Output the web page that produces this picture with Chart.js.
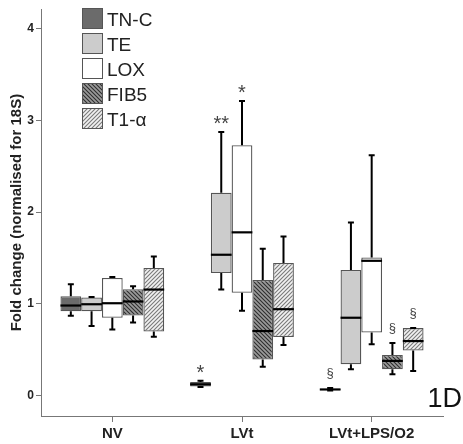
<!DOCTYPE html>
<html>
<head>
<meta charset="utf-8">
<script src="https://cdn.jsdelivr.net/npm/chart.js@4.4.1/dist/chart.umd.min.js"></script>
<style>
  html, body { margin: 0; padding: 0; background: #fff; }
  #wrap { width: 463px; height: 444px; }
</style>
</head>
<body>
<div id="wrap"><canvas id="boxChart"></canvas></div>
<script>
// Grupos e séries
const groups = ['NV', 'LVt', 'LVt+LPS/O2'];
const seriesNames = ['TN-C', 'TE', 'LOX', 'FIB5', 'T1-α'];
const yTicks = [0, 1, 2, 3, 4];

// Estatísticas de cada caixa: uma linha por série, uma coluna por grupo
const minVals = [
  [0.871, 0.095, 0.057],
  [0.759, 1.157, 0.289],
  [0.723, 0.925, 0.560],
  [0.799, 0.315, 0.235],
  [0.644, 0.553, 0.271]
];
const q1Vals = [
  [0.921, 0.100, 0.063],
  [0.921, 1.337, 0.344],
  [0.850, 1.121, 0.690],
  [0.875, 0.394, 0.289],
  [0.701, 0.640, 0.492]
];
const medianVals = [
  [0.983, 0.125, 0.069],
  [0.997, 1.536, 0.850],
  [1.008, 1.780, 1.470],
  [1.027, 0.705, 0.380],
  [1.157, 0.943, 0.596]
];
const q3Vals = [
  [1.084, 0.150, 0.075],
  [1.070, 2.211, 1.370],
  [1.283, 2.728, 1.507],
  [1.160, 1.262, 0.445],
  [1.392, 1.446, 0.737]
];
const maxVals = [
  [1.214, 0.163, 0.085],
  [1.075, 2.873, 1.886],
  [1.294, 3.209, 2.620],
  [1.193, 1.601, 0.575],
  [1.518, 1.735, 0.737]
];

// Marcas de significância (grupo, série, texto)
const markGroup = [1, 1, 1, 2, 2, 2];
const markSeries = [0, 1, 2, 0, 3, 4];
const markText = ['*', '**', '*', '§', '§', '§'];

// Padrões hachurados
function hatch(bg, fg, dir) {
  const c = document.createElement('canvas');
  c.width = 4; c.height = 4;
  const g = c.getContext('2d');
  g.fillStyle = bg;
  g.fillRect(0, 0, 4, 4);
  g.strokeStyle = fg;
  g.lineWidth = 1.1;
  g.beginPath();
  if (dir > 0) {
    g.moveTo(0, 4); g.lineTo(4, 0);
    g.moveTo(-1, 1); g.lineTo(1, -1);
    g.moveTo(3, 5); g.lineTo(5, 3);
  } else {
    g.moveTo(0, 0); g.lineTo(4, 4);
    g.moveTo(-1, 3); g.lineTo(1, 5);
    g.moveTo(3, -1); g.lineTo(5, 1);
  }
  g.stroke();
  return g.createPattern(c, 'repeat');
}

const fills = ['#6b6b6b', '#cccccc', '#ffffff', hatch('#9a9a9a', '#2e2e2e', -1), hatch('#f2f2f2', '#7a7a7a', 1)];

const datasets = seriesNames.map((name, s) => ({
  label: name,
  data: groups.map((g, i) => ({ x: i, y: [q1Vals[s][i], q3Vals[s][i]] })),
  backgroundColor: fills[s],
  borderColor: '#555',
  borderWidth: 1.3,
  borderSkipped: false,
  categoryPercentage: 0.8,
  barPercentage: 1.0
}));

// Bigodes, medianas, marcas, legenda e rótulo do painel
const boxPlugin = {
  id: 'boxExtras',
  afterDatasetsDraw(chart) {
    const ctx = chart.ctx;
    const y = chart.scales.y;
    ctx.save();
    ctx.strokeStyle = '#000';
    chart.data.datasets.forEach((ds, s) => {
      const meta = chart.getDatasetMeta(s);
      meta.data.forEach((bar, i) => {
        const cx = bar.x;
        const half = bar.width / 2;
        const yMin = y.getPixelForValue(minVals[s][i]);
        const yMax = y.getPixelForValue(maxVals[s][i]);
        const yQ1 = y.getPixelForValue(q1Vals[s][i]);
        const yQ3 = y.getPixelForValue(q3Vals[s][i]);
        const yMed = y.getPixelForValue(medianVals[s][i]);
        ctx.lineWidth = 2;
        ctx.beginPath();
        ctx.moveTo(cx, yQ3); ctx.lineTo(cx, yMax);
        ctx.moveTo(cx - 3, yMax); ctx.lineTo(cx + 3, yMax);
        ctx.moveTo(cx, yQ1); ctx.lineTo(cx, yMin);
        ctx.moveTo(cx - 3, yMin); ctx.lineTo(cx + 3, yMin);
        ctx.stroke();
        ctx.lineWidth = 2.2;
        ctx.beginPath();
        ctx.moveTo(cx - half, yMed); ctx.lineTo(cx + half, yMed);
        ctx.stroke();
      });
    });

    // marcas de significância acima do bigode superior
    ctx.fillStyle = '#444';
    ctx.textAlign = 'center';
    ctx.textBaseline = 'alphabetic';
    markText.forEach((t, k) => {
      const s = markSeries[k], i = markGroup[k];
      const bar = chart.getDatasetMeta(s).data[i];
      const top = y.getPixelForValue(maxVals[s][i]);
      if (t === '§') {
        ctx.font = '13px "Liberation Sans", Arial, sans-serif';
        ctx.fillText(t, bar.x, top - 11);
      } else {
        ctx.font = '20px "Liberation Sans", Arial, sans-serif';
        ctx.fillText(t, bar.x, top - 2);
      }
    });
    ctx.restore();
  },
  afterDraw(chart) {
    const ctx = chart.ctx;
    ctx.save();
    // legenda
    seriesNames.forEach((name, s) => {
      const bx = 82, by = 8 + s * 25;
      ctx.fillStyle = fills[s];
      ctx.fillRect(bx, by, 21, 21);
      ctx.strokeStyle = '#555';
      ctx.lineWidth = 1;
      ctx.strokeRect(bx + 0.5, by + 0.5, 20, 20);
      ctx.fillStyle = '#222';
      ctx.font = '19px "Liberation Sans", Arial, sans-serif';
      ctx.textAlign = 'left';
      ctx.textBaseline = 'alphabetic';
      ctx.fillText(name, bx + 25, by + 18);
    });
    // rótulo do painel
    ctx.fillStyle = '#111';
    ctx.font = '27px "Liberation Sans", Arial, sans-serif';
    ctx.textAlign = 'right';
    ctx.fillText('1D', 462, 407);
    ctx.restore();
  }
};

const ctx = document.getElementById('boxChart').getContext('2d');
const boxChart = new Chart(ctx, {
  type: 'bar',
  data: { datasets: datasets },
  plugins: [boxPlugin],
  options: {
    responsive: true,
    maintainAspectRatio: false,
    animation: false,
    layout: { padding: { left: 0, right: 20, top: 7, bottom: 0 } },
    plugins: { legend: { display: false }, tooltip: { enabled: false } },
    scales: {
      x: {
        type: 'linear',
        min: -0.55,
        max: 2.55,
        offset: false,
        afterBuildTicks: (scale) => { scale.ticks = groups.map((g, i) => ({ value: i })); },
        afterFit: (scale) => { scale.height = 28; },
        ticks: {
          callback: (v) => groups[v],
          autoSkip: false,
          maxRotation: 0,
          padding: 3,
          color: '#222',
          font: { family: '"Liberation Sans", Arial, sans-serif', size: 15, weight: 'bold' }
        },
        grid: { drawOnChartArea: false, drawTicks: true, tickLength: 6, color: '#777', offset: false },
        border: { display: true, color: '#777', width: 1 }
      },
      y: {
        min: -0.22,
        max: 4.21,
        afterBuildTicks: (scale) => { scale.ticks = yTicks.map(v => ({ value: v })); },
        afterFit: (scale) => { scale.width = 41; },
        ticks: {
          padding: 2,
          color: '#222',
          font: { family: '"Liberation Sans", Arial, sans-serif', size: 12, weight: 'bold' }
        },
        grid: { drawOnChartArea: false, drawTicks: true, tickLength: 5, color: '#777' },
        border: { display: true, color: '#777', width: 1 },
        title: {
          display: true,
          text: 'Fold change (normalised for 18S)',
          color: '#222',
          padding: { top: 8, bottom: 0 },
          font: { family: '"Liberation Sans", Arial, sans-serif', size: 15, weight: 'bold' }
        }
      }
    }
  }
});
</script>
</body>
</html>
